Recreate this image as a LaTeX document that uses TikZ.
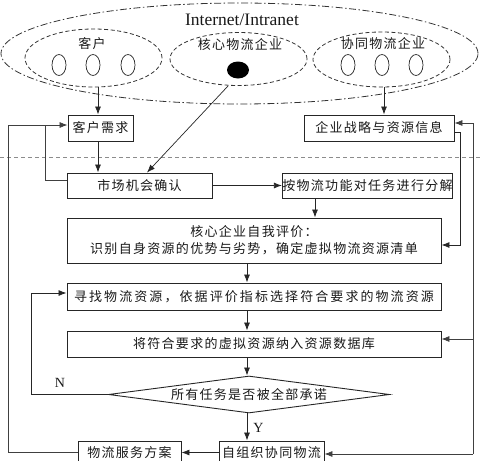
\documentclass[tikz,border=0pt]{standalone}
\usepackage{fontspec}
\setmainfont{Liberation Serif}
\newfontfamily\cjk[LetterSpace=10]{Noto Sans CJK SC}
\newfontfamily\cjkw[LetterSpace=16]{Noto Sans CJK SC}
\usetikzlibrary{arrows.meta,shapes.geometric}
\begin{document}
\begin{tikzpicture}[x=1pt,y=-1pt,
  line width=0.8pt, draw=black!85,
  every node/.style={font=\cjk\fontsize{13}{17}\selectfont, text=black!90, inner sep=0pt},
  box/.style={draw=black!85, rectangle, line width=0.9pt},
  arr/.style={draw=black!85, -{Latex[length=8pt,width=6pt]}},
  grp/.style={draw=black!80, ellipse, dash pattern=on 4pt off 2.5pt, line width=0.8pt},
  small/.style={draw=black!85, ellipse, minimum width=14pt, minimum height=21pt, line width=0.7pt},
  thin/.style={draw=black!75, line width=0.7pt},
  latin/.style={font=\rmfamily\fontsize{14}{16}\selectfont},
]
\useasboundingbox (0,0) rectangle (480,461);

% top ellipses
\node[draw=black!80, ellipse, minimum width=477pt, minimum height=101pt,
      dash pattern=on 7pt off 2.5pt on 1.5pt off 2.5pt] (enet) at (239.5,53.5) {};
\node[font=\rmfamily\fontsize{17.5}{19}\selectfont] (lnet) at (242,20) {Internet/Intranet};

\node[grp, minimum width=137pt, minimum height=58pt] (ekehu) at (93.5,58) {};
\node (lkehu) at (92,44) {客户};
\node[small] (k1) at (59,65) {};
\node[small] (k2) at (93,65) {};
\node[small] (k3) at (128,65) {};

\node[grp, minimum width=137pt, minimum height=53pt] (ehexin) at (238.5,59) {};
\node (lhexin) at (240,45) {核心物流企业};
\node[fill=black, ellipse, minimum width=22pt, minimum height=17pt] (core) at (238,70) {};
\coordinate (hxout) at (228,86);

\node[grp, minimum width=137pt, minimum height=55pt] (exietong) at (381.5,59.5) {};
\node (lxietong) at (383,44) {协同物流企业};
\node[small] (x1) at (348,65) {};
\node[small] (x2) at (382,65) {};
\node[small] (x3) at (416,65) {};

% dashed separator
\coordinate (sepL) at (0,157);
\coordinate (sepR) at (480,157);
\draw[draw=black!45, dash pattern=on 4pt off 3pt, line width=0.8pt] (sepL) -- (sepR);

% boxes
\node[box, minimum width=65pt, minimum height=26pt] (kehubox) at (100.5,128) {客户需求};
\node[box, minimum width=150pt, minimum height=26pt] (qiye) at (379,128) {企业战略与资源信息};
\node[box, minimum width=145pt, minimum height=25pt] (shichang) at (139.5,185.5) {市场机会确认};
\node[box, minimum width=169pt, minimum height=25pt] (fenjie) at (367.5,185.5) {按物流功能对任务进行分解};
\node[box, minimum width=374pt, minimum height=45pt, align=center] (hexin) at (254,240.5)
  {核心企业自我评价：\\识别自身资源的优势与劣势，确定虚拟物流资源清单};
\node[box, minimum width=374pt, minimum height=27pt, font=\cjkw\fontsize{13}{17}\selectfont] (xunzhao) at (254,296.5)
  {寻找物流资源，依据评价指标选择符合要求的物流资源};
\node[box, minimum width=374pt, minimum height=26pt] (jiang) at (254,344)
  {将符合要求的虚拟资源纳入资源数据库};
\node[draw=black!85, diamond, line width=0.9pt, shape aspect=7.6, minimum width=281pt, minimum height=37pt] (judge) at (249,394.5)
  {所有任务是否被全部承诺};
\node[box, minimum width=105pt, minimum height=23pt] (zuzhi) at (271.5,452.5) {自组织协同物流};
\node[box, minimum width=103pt, minimum height=23pt] (fangan) at (129.5,452.5) {物流服务方案};

% arrows top
\draw[arr] ([xshift=4.5pt]ekehu.south) -- ([xshift=-2.5pt]kehubox.north);
\draw[arr] ([xshift=2.5pt]exietong.south) -- ([xshift=5pt]qiye.north);
\draw[arr, line width=0.7pt] (hxout) -- ([xshift=7.5pt]shichang.north);

% main flow
\draw[arr] ([xshift=-2.5pt]kehubox.south) -- ([xshift=-2.5pt]kehubox.south |- shichang.north);
\draw[arr] (shichang.east) -- (fenjie.west);
\draw[arr] ([xshift=-52.5pt]fenjie.south) -- ([xshift=-52.5pt]fenjie.south |- hexin.north);
\draw[arr] ([xshift=-7pt]hexin.south) -- ([xshift=-7pt]xunzhao.north);
\draw[arr] ([xshift=-7pt]xunzhao.south) -- ([xshift=-7pt]jiang.north);
\draw[arr] ([xshift=-7pt]jiang.south) -- ([xshift=-7pt]jiang.south |- judge.north);
\draw[arr] ([xshift=-2pt]judge.south) -- ([xshift=-2pt]judge.south |- zuzhi.north)
  node[pos=0.55, right=6pt, latin] {Y};
\draw[arr] (zuzhi.west) -- (fangan.east);

% left feedback lines
\coordinate (lout) at (8,125);
\coordinate (lin) at (45,125);
\draw[thin] (fangan.west) -| (lout);
\draw[arr, thin] (lout) -- ([yshift=3pt]kehubox.west);
\draw[thin] ([yshift=5.5pt]shichang.west) -| (lin);

% N loop
\coordinate (nx) at (31,394.5);
\draw[arr] (judge.west) -- (nx) |- ([yshift=3.5pt]xunzhao.west);
\node[latin] (nlab) at (60,383) {N};

% right lines
\coordinate (rtop) at (473,123);
\coordinate (rmid) at (473,339);
\coordinate (rbot) at (473,454);
\draw[thin] (rtop) -- (rbot);
\draw[arr, thin] (rtop) -- ([yshift=5pt]qiye.east);
\draw[arr, thin] (rmid) -- ([yshift=5pt]jiang.east);
\draw[arr, thin] (rbot) -- ([yshift=-1.5pt]zuzhi.east);
\coordinate (rq) at (460,132);
\draw[arr] ([yshift=-4pt]qiye.east) -- (rq) |- ([yshift=-4.5pt]hexin.east);
\end{tikzpicture}
\end{document}
